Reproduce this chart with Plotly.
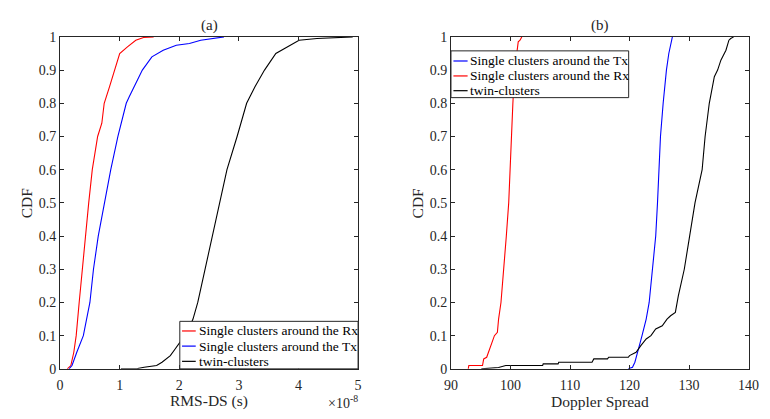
import plotly.graph_objects as go

# ---------------- data ----------------
# (a) RMS delay spread, x in units of 1e-8 s
a_rx_x = [0.12, 0.18, 0.23, 0.27, 0.32, 0.37, 0.42, 0.48, 0.54, 0.63, 0.70, 0.74, 0.83, 0.91, 1.00, 1.13, 1.27, 1.40, 1.57]
a_rx_y = [0, 0.01, 0.05, 0.10, 0.20, 0.30, 0.40, 0.50, 0.60, 0.70, 0.74, 0.80, 0.85, 0.90, 0.95, 0.97, 0.99, 0.998, 1.0]
a_tx_x = [0.15, 0.20, 0.28, 0.39, 0.50, 0.56, 0.64, 0.74, 0.85, 0.97, 1.11, 1.16, 1.30, 1.38, 1.54, 1.73, 1.95, 2.17, 2.36, 2.61, 2.75]
a_tx_y = [0, 0.01, 0.05, 0.10, 0.20, 0.30, 0.40, 0.50, 0.60, 0.70, 0.80, 0.82, 0.87, 0.90, 0.94, 0.96, 0.975, 0.98, 0.99, 0.995, 1.0]
a_tw_x = [1.02, 1.30, 1.41, 1.62, 1.71, 1.85, 1.93, 2.01, 2.11, 2.23, 2.31, 2.43, 2.55, 2.67, 2.80, 2.97, 3.13, 3.27, 3.43, 3.62, 3.81, 4.01, 4.31, 4.91]
a_tw_y = [0, 0.001, 0.005, 0.01, 0.02, 0.04, 0.06, 0.08, 0.10, 0.15, 0.20, 0.30, 0.40, 0.50, 0.60, 0.70, 0.80, 0.85, 0.90, 0.95, 0.97, 0.99, 0.995, 1.0]

# (b) Doppler spread
b_tx_x = [119.8, 120.5, 120.9, 121.4, 121.8, 122.1, 122.8, 123.3, 123.85, 124.4, 124.7, 124.95, 125.2, 125.65, 125.9, 126.2, 126.6, 126.9, 127.2]
b_tx_y = [0, 0.005, 0.02, 0.05, 0.08, 0.10, 0.15, 0.20, 0.30, 0.40, 0.50, 0.60, 0.70, 0.80, 0.85, 0.90, 0.95, 0.98, 1.0]
b_rx_x = [92.9, 93.0, 95.3, 95.5, 96.0, 96.3, 96.6, 97.0, 97.3, 97.8, 98.0, 98.4, 98.9, 99.3, 99.7, 99.9, 100.1, 100.4, 100.7, 101.0, 101.3, 101.6, 101.9]
b_rx_y = [0, 0.01, 0.01, 0.03, 0.035, 0.05, 0.07, 0.09, 0.10, 0.11, 0.15, 0.20, 0.30, 0.40, 0.50, 0.60, 0.70, 0.80, 0.90, 0.95, 0.985, 0.99, 1.0]
b_tw_x = [95.1, 96.5, 98.0, 99.2, 105.4, 105.5, 108.0, 108.1, 113.7, 114.0, 116.3, 116.5, 119.8, 120.0, 121.1, 121.9, 122.8, 123.6, 124.4, 125.5, 126.3, 126.9, 127.7, 128.2, 129.2, 130.1, 131.0, 132.2, 132.7, 133.4, 134.25, 134.8, 135.35, 136.2, 136.7, 137.0, 137.5]
b_tw_y = [0, 0.002, 0.004, 0.01, 0.01, 0.015, 0.015, 0.02, 0.02, 0.03, 0.03, 0.035, 0.035, 0.04, 0.05, 0.07, 0.09, 0.10, 0.12, 0.13, 0.15, 0.16, 0.17, 0.22, 0.30, 0.40, 0.50, 0.60, 0.70, 0.80, 0.88, 0.90, 0.93, 0.96, 0.99, 0.995, 1.0]

y_ticks = [0, 0.1, 0.2, 0.3, 0.4, 0.5, 0.6, 0.7, 0.8, 0.9, 1]
y_ticklabels = ["0", "0.1", "0.2", "0.3", "0.4", "0.5", "0.6", "0.7", "0.8", "0.9", "1"]
a_xticks = [0, 1, 2, 3, 4, 5]
b_xticks = [90, 100, 110, 120, 130, 140]

label_rx = "Single clusters around the Rx"
label_tx = "Single clusters around the Tx"
label_tw = "twin-clusters"

RED, BLUE, BLACK = "#ff0000", "#0000ff", "#000000"
FONT = "'Liberation Serif', 'Times New Roman', Times, serif"
TXT = "#262626"

W, H = 770, 419
def px(x):
    return x / W
def py(y):
    return 1 - y / H

fig = go.Figure()
lw = 1.1
fig.add_trace(go.Scatter(x=a_rx_x, y=a_rx_y, mode="lines", line=dict(color=RED, width=lw), xaxis="x", yaxis="y", showlegend=False))
fig.add_trace(go.Scatter(x=a_tx_x, y=a_tx_y, mode="lines", line=dict(color=BLUE, width=lw), xaxis="x", yaxis="y", showlegend=False))
fig.add_trace(go.Scatter(x=a_tw_x, y=a_tw_y, mode="lines", line=dict(color=BLACK, width=lw), xaxis="x", yaxis="y", showlegend=False))
fig.add_trace(go.Scatter(x=b_tx_x, y=b_tx_y, mode="lines", line=dict(color=BLUE, width=lw), xaxis="x2", yaxis="y2", showlegend=False))
fig.add_trace(go.Scatter(x=b_rx_x, y=b_rx_y, mode="lines", line=dict(color=RED, width=lw), xaxis="x2", yaxis="y2", showlegend=False))
fig.add_trace(go.Scatter(x=b_tw_x, y=b_tw_y, mode="lines", line=dict(color=BLACK, width=lw), xaxis="x2", yaxis="y2", showlegend=False))

ax_common = dict(showline=True, linecolor=TXT, linewidth=1, mirror="ticks", ticks="inside", ticklen=4,
                 tickcolor=TXT, showgrid=False, zeroline=False,
                 tickfont=dict(family=FONT, size=14, color=TXT))
ydom = [py(375.3), py(31)]
fig.update_layout(
    width=W, height=H, margin=dict(l=0, r=0, t=0, b=0),
    font=dict(family=FONT, color=TXT),
    plot_bgcolor="white", paper_bgcolor="white", showlegend=False,
    xaxis=dict(domain=[px(54.3), px(359)], range=[0, 5], tickvals=a_xticks, anchor="y",
               ticklabelstandoff=3, **ax_common),
    yaxis=dict(domain=ydom, range=[0, 1], tickvals=y_ticks, ticktext=y_ticklabels, anchor="x", **ax_common),
    xaxis2=dict(domain=[px(454), px(758.3)], range=[90, 140], tickvals=b_xticks, anchor="y2",
                ticklabelstandoff=3, **ax_common),
    yaxis2=dict(domain=ydom, range=[0, 1], tickvals=y_ticks, ticktext=y_ticklabels, anchor="x2", **ax_common),
)

ann = []
def text(x, y, s, size=15, xanchor="center", angle=0):
    ann.append(dict(x=px(x), y=py(y), xref="paper", yref="paper", text=s, showarrow=False,
                    xanchor=xanchor, yanchor="middle", textangle=angle,
                    font=dict(family=FONT, size=size, color=TXT)))

text(206.6, 19.5, "(a)")
text(606.2, 19.5, "(b)")
text(20, 203, "CDF", size=15.5, angle=-90)
text(420, 203, "CDF", size=15.5, angle=-90)
text(206.6, 409, "RMS-DS (s)", size=15.5)
text(606.2, 409, "Doppler Spread", size=15.5)
text(361, 410, "×10<sup>-8</sup>", size=14, xanchor="right")

shapes = []
def legend(x0, y0, x1, y1, items, line_x0, line_x1, text_x, rows):
    shapes.append(dict(type="rect", xref="paper", yref="paper", x0=px(x0), y0=py(y0), x1=px(x1), y1=py(y1),
                       line=dict(color=TXT, width=1), fillcolor="white", layer="above"))
    for (lab, col), ry in zip(items, rows):
        shapes.append(dict(type="line", xref="paper", yref="paper", x0=px(line_x0), x1=px(line_x1),
                           y0=py(ry), y1=py(ry), line=dict(color=col, width=1.2), layer="above"))
        ann.append(dict(x=px(text_x), y=py(ry), xref="paper", yref="paper", text=lab, showarrow=False,
                        xanchor="left", yanchor="middle", font=dict(family=FONT, size=13.5, color="#000000")))

legend(176.7, 326, 359, 375.3, [(label_rx, RED), (label_tx, BLUE), (label_tw, BLACK)],
       179, 193, 194, [336, 351.7, 367.5])
legend(454, 45.5, 635.7, 94, [(label_tx, BLUE), (label_rx, RED), (label_tw, BLACK)],
       456.5, 471, 471.5, [56, 71.5, 86.8])

fig.update_layout(annotations=ann, shapes=shapes)
fig.write_html("out.html")
